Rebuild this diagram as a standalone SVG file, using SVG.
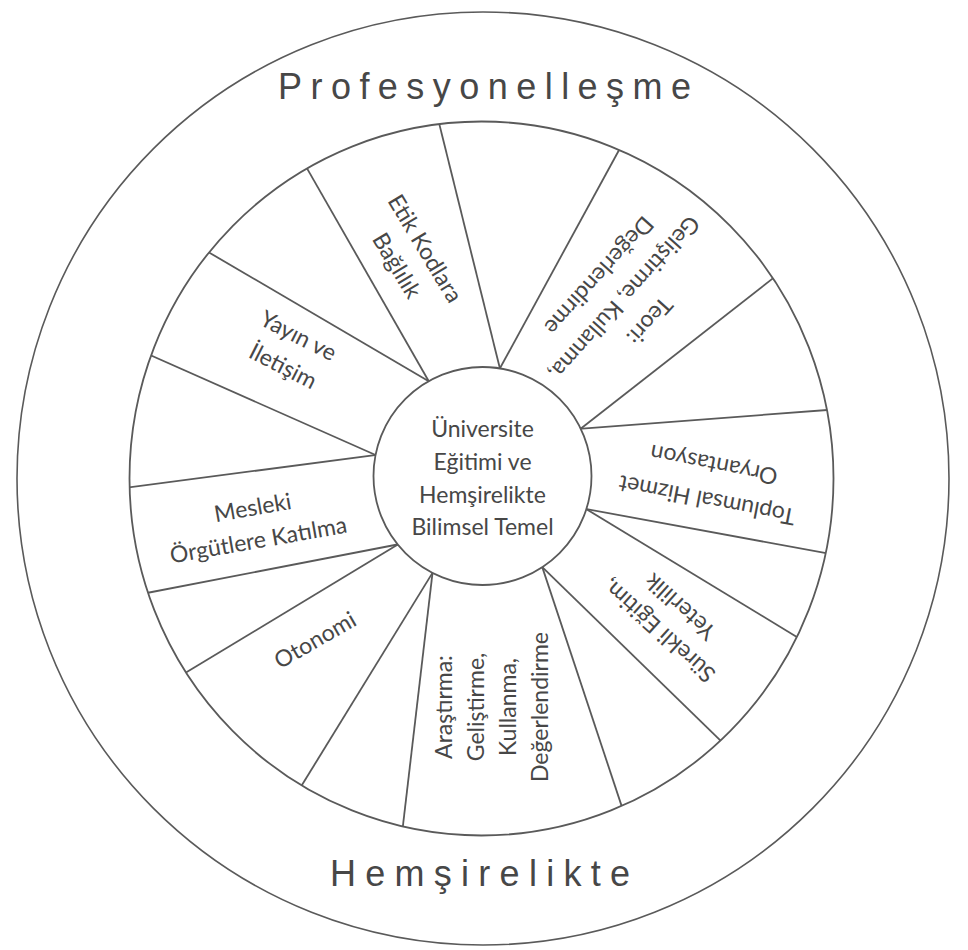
<svg xmlns="http://www.w3.org/2000/svg" width="968" height="950" viewBox="0 0 968 950">
<style>
.ring{fill:none;stroke:#5a5a5a;stroke-width:1.8}
.spoke{stroke:#5a5a5a;stroke-width:1.8;fill:none}
.lbl{font-family:Lato,"Liberation Sans",sans-serif;font-size:23px;fill:#474747;text-anchor:middle}
.big{font-family:"Liberation Sans Narrow","Liberation Sans",sans-serif;font-size:36px;fill:#474747}
</style>
<defs>
<clipPath id="ringclip">
<path clip-rule="evenodd" d="M129.5,478.5 a352,357 0 1,0 704,0 a352,357 0 1,0 -704,0 Z M373.5,476 a109,109 0 1,0 218,0 a109,109 0 1,0 -218,0 Z"/>
</clipPath>
</defs>
<rect width="968" height="950" fill="#ffffff"/>
<g id="outer-ring">
<ellipse class="ring" cx="483" cy="478.5" rx="466" ry="466.5" style="stroke-width:1.6"/>
<text class="big" x="278" y="99" textLength="413" lengthAdjust="spacing">Profesyonelleşme</text>
<text class="big" x="330" y="886" textLength="300" lengthAdjust="spacing">Hemşirelikte</text>
</g>
<g id="wheel-rim">
<ellipse class="ring" cx="481.5" cy="478.5" rx="352" ry="357"/>
</g>
<g id="connectors" clip-path="url(#ringclip)">
<line class="spoke" x1="431.2" y1="385.5" x2="304" y2="163.1"/>
<line class="spoke" x1="433" y1="383.7" x2="203.1" y2="249"/>
<line class="spoke" x1="501.1" y1="373.3" x2="438.1" y2="119.2"/>
<line class="spoke" x1="497.5" y1="372.8" x2="621.8" y2="145"/>
<line class="spoke" x1="576.8" y1="431.8" x2="778.3" y2="274.1"/>
<line class="spoke" x1="575.7" y1="429.1" x2="835" y2="409.4"/>
<line class="spoke" x1="581.4" y1="508.2" x2="832.9" y2="554.4"/>
<line class="spoke" x1="582" y1="506.5" x2="803.8" y2="641.2"/>
<line class="spoke" x1="538.7" y1="563.6" x2="725.7" y2="745.6"/>
<line class="spoke" x1="540.7" y1="562.4" x2="624.5" y2="814.6"/>
<line class="spoke" x1="433.1" y1="567.9" x2="402.1" y2="832.9"/>
<line class="spoke" x1="435.1" y1="568.6" x2="297.8" y2="791.8"/>
<line class="spoke" x1="402" y1="541.9" x2="180.2" y2="676.1"/>
<line class="spoke" x1="402.6" y1="543.5" x2="144.1" y2="593.5"/>
<line class="spoke" x1="380.5" y1="454.4" x2="124.1" y2="488"/>
<line class="spoke" x1="380.1" y1="457" x2="142.7" y2="351.8"/>
</g>
<g id="hub">
<circle class="ring" cx="482.5" cy="476" r="109"/>
<text class="lbl"><tspan x="482.5" y="437">Üniversite</tspan><tspan x="482.5" y="470">Eğitimi ve</tspan><tspan x="482.5" y="503">Hemşirelikte</tspan><tspan x="482.5" y="535">Bilimsel Temel</tspan></text>
</g>
<g id="etik" transform="translate(411,257) rotate(59)">
<text class="lbl"><tspan x="0" y="-8.5">Etik Kodlara</tspan><tspan x="0" y="24.5">Bağlılık</tspan></text>
</g>
<g id="teori" transform="translate(624.4,298.3) rotate(132)">
<text class="lbl"><tspan x="0" y="-26">Teori:</tspan><tspan x="0" y="8">Geliştirme, Kullanma,</tspan><tspan x="0" y="42">Değerlendirme</tspan></text>
</g>
<g id="toplumsal" transform="translate(710.4,482.5) rotate(191)">
<text class="lbl"><tspan x="0" y="-10">Toplumsal Hizmet</tspan><tspan x="0" y="26">Oryantasyon</tspan></text>
</g>
<g id="surekli" transform="translate(669.5,618.7) rotate(222)">
<text class="lbl"><tspan x="0" y="-8">Sürekli Eğitim,</tspan><tspan x="0" y="24">Yeterlilik</tspan></text>
</g>
<g id="arastirma" transform="translate(500,707) rotate(-90)">
<text class="lbl"><tspan x="0" y="-48">Araştırma:</tspan><tspan x="0" y="-16">Geliştirme,</tspan><tspan x="0" y="16">Kullanma,</tspan><tspan x="0" y="48">Değerlendirme</tspan></text>
</g>
<g id="otonomi" transform="translate(315,640) rotate(-30)">
<text class="lbl" x="0" y="8">Otonomi</text>
</g>
<g id="mesleki" transform="translate(257,531.7) rotate(-10)">
<text class="lbl"><tspan x="0" y="-16.5">Mesleki</tspan><tspan x="0" y="16.5">Örgütlere Katılma</tspan></text>
</g>
<g id="yayin" transform="translate(290.7,350.8) rotate(27)">
<text class="lbl"><tspan x="0" y="-9">Yayın ve</tspan><tspan x="0" y="25">İletişim</tspan></text>
</g>
</svg>
